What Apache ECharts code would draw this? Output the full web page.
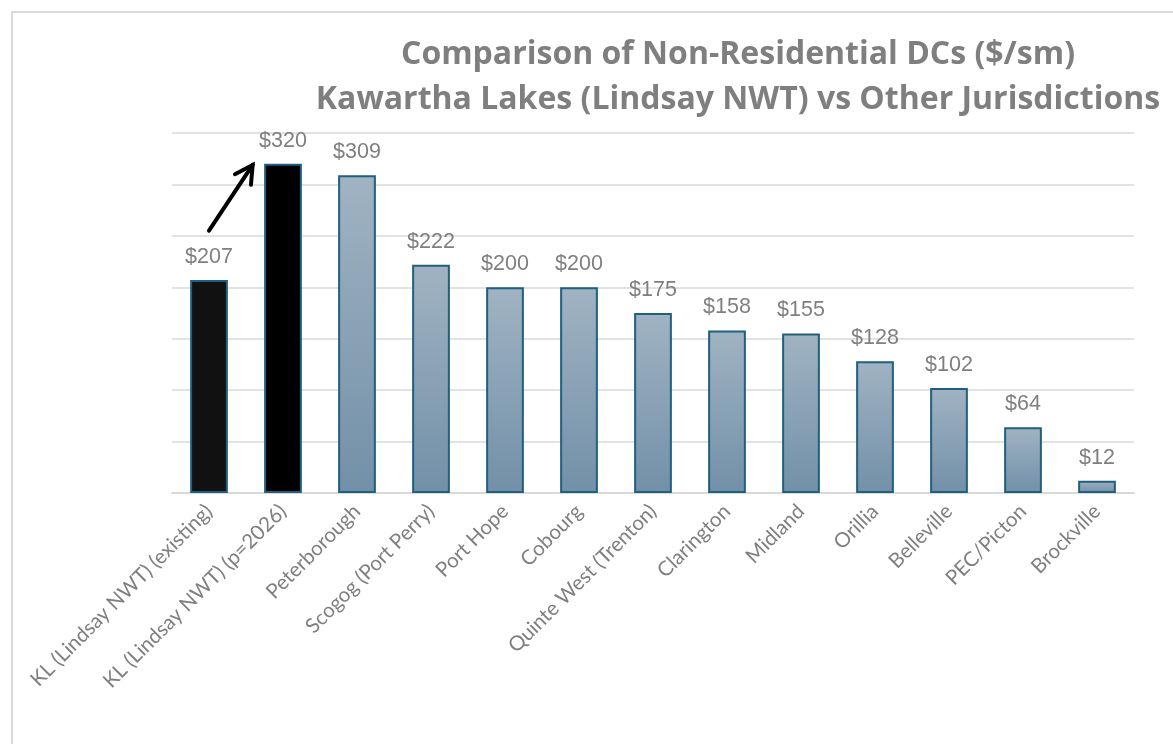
<!DOCTYPE html>
<html><head><meta charset="utf-8">
<script src="https://cdn.jsdelivr.net/npm/echarts@6/dist/echarts.min.js"></script>
<style>html,body{margin:0;padding:0;background:#fff}#c{width:1173px;height:744px}
#frame{position:absolute;left:11px;top:11px;width:1170px;height:740px;border:2px solid #d9d9d9;box-sizing:border-box;pointer-events:none}</style>
</head><body><div id="c"></div><div id="frame"></div>
<script>
const categories = ["KL (Lindsay NWT) (existing)","KL (Lindsay NWT) (p=2026)","Peterborough","Scogog (Port Perry)","Port Hope","Cobourg","Quinte West (Trenton)","Clarington","Midland","Orillia","Belleville","PEC/Picton","Brockville"];
const values = [207,320,309,222,200,200,175,158,155,128,102,64,12];
const titleLines = ["Comparison of Non-Residential DCs ($/sm)","Kawartha Lakes (Lindsay NWT) vs Other Jurisdictions"];
const arrowFrom = [0, 255];   // [category index, value]
const arrowTo = [0.59, 319];

const chart = echarts.init(document.getElementById('c'));
const blue = new echarts.graphic.LinearGradient(0,0,0,1,[{offset:0,color:'#a0b3c2'},{offset:1,color:'#7290a8'}]);
const data = values.map((v,i)=>({value:v,itemStyle:{color: i===0?'#111111':(i===1?'#000000':blue)}}));
chart.setOption({
  animation:false,
  title:{text:titleLines.join('\n'),left:733,textAlign:'center',top:27,
    textStyle:{fontFamily:'Open Sans',fontWeight:'bold',fontSize:32,color:'#7f7f7f',lineHeight:45}},
  grid:{left:172,right:39,top:133,bottom:251,containLabel:false},
  xAxis:{type:'category',data:categories,
    axisLine:{lineStyle:{color:'#d9d9d9',width:2}},axisTick:{show:false},
    axisLabel:{rotate:45,interval:0,fontFamily:'Lato',fontSize:20.5,color:'#7f7f7f',margin:15}},
  yAxis:{type:'value',min:0,max:350,interval:50,axisLabel:{show:false},axisLine:{show:false},axisTick:{show:false},
    splitLine:{lineStyle:{color:'#d9d9d9',width:1.5}}},
  series:[{type:'bar',data:data,barWidth:'51%',
    itemStyle:{borderColor:'#1f5f7f',borderWidth:2},
    label:{show:true,position:'top',distance:12,formatter:p=>'$'+p.value,fontFamily:'Liberation Sans',fontSize:21.5,color:'#7f7f7f'}}]
});
function px(pt){
  const i0=Math.floor(pt[0]), f=pt[0]-i0;
  const a=chart.convertToPixel({seriesIndex:0},[i0,pt[1]]);
  const b=chart.convertToPixel({seriesIndex:0},[i0+1,pt[1]]);
  return [a[0]+(b[0]-a[0])*f, a[1]];
}
const p1=px(arrowFrom), p2=px(arrowTo);
const ang=Math.atan2(p2[1]-p1[1],p2[0]-p1[0]);
const hl=20, ha=0.5;
chart.setOption({graphic:[
  {type:'line',shape:{x1:p1[0],y1:p1[1],x2:p2[0],y2:p2[1]},style:{stroke:'#000',lineWidth:4,lineCap:'round'}},
  {type:'polyline',shape:{points:[
    [p2[0]-hl*Math.cos(ang-ha),p2[1]-hl*Math.sin(ang-ha)],p2,
    [p2[0]-hl*Math.cos(ang+ha),p2[1]-hl*Math.sin(ang+ha)]]},
    style:{stroke:'#000',lineWidth:4,lineCap:'round',lineJoin:'miter',fill:null}}
]});
</script></body></html>
